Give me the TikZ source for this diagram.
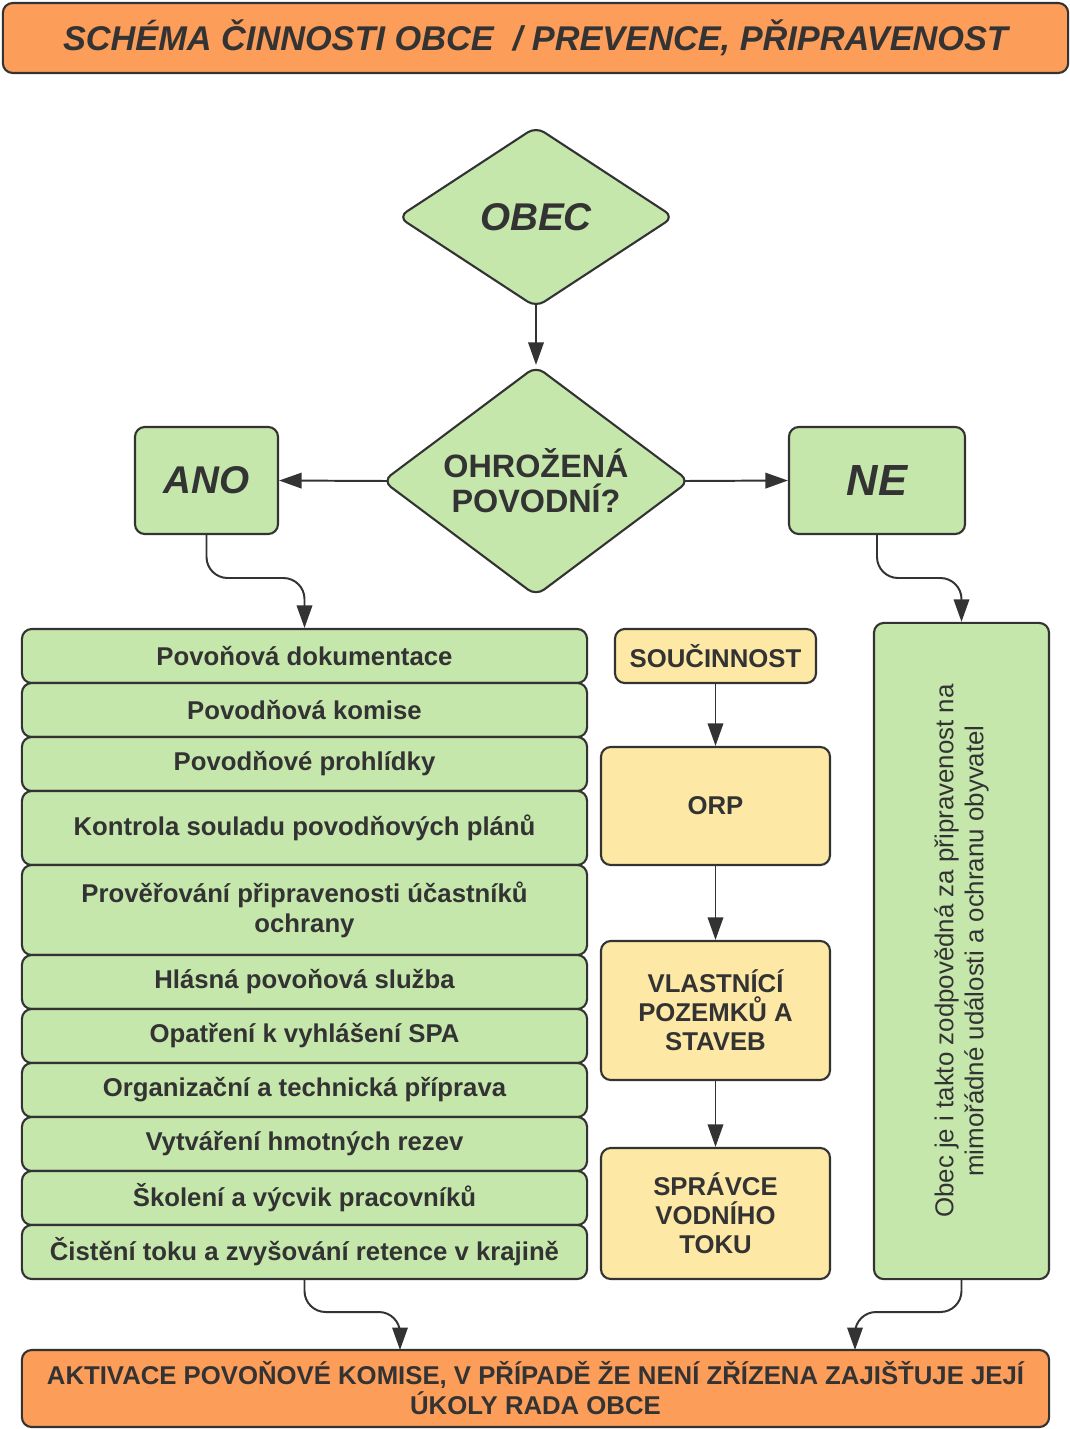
\documentclass[tikz,border=0pt]{standalone}
\usepackage{fontspec}
\setmainfont{Liberation Sans}
\usetikzlibrary{shapes.geometric,arrows.meta}
\definecolor{boxorange}{HTML}{FC9D5A}
\definecolor{boxgreen}{HTML}{C6E7AC}
\definecolor{boxyellow}{HTML}{FDE8A5}
\definecolor{ink}{HTML}{333333}

\begin{document}
\begin{tikzpicture}[x=0.025cm, y=-0.025cm,
  box/.style = {draw=ink, line width=1.5pt, rounded corners=7pt, align=center,
                text=ink, font=\bfseries\fontsize{18.3}{21.3}\selectfont, inner sep=2pt},
  greenbox/.style = {box, fill=boxgreen},
  yellowbox/.style = {box, fill=boxyellow, minimum width=5.725cm},
  orangebox/.style = {box, fill=boxorange},
  row/.style = {greenbox, minimum width=14.125cm},
  decision/.style = {diamond, draw=ink, line width=1.5pt, rounded corners=7pt,
                fill=boxgreen, text=ink, align=center, inner sep=0pt, aspect=1.5},
  arr/.style = {draw=ink, line width=1.4pt, -{Triangle[length=16pt, width=11pt]}}]
\useasboundingbox (0,0) rectangle (1070,1429);

% header
\node [orangebox, minimum width=26.625cm, minimum height=1.75cm,
       font=\bfseries\itshape\fontsize{24.4}{28}\selectfont] (title) at (535.5,38)
  {SCHÉMA ČINNOSTI OBCE\ \ / PREVENCE, PŘIPRAVENOST};

% decisions
\node [decision, minimum width=6.9cm, minimum height=4.525cm,
       font=\bfseries\itshape\fontsize{27.5}{30}\selectfont] (obec) at (536,217) {OBEC};
\node [decision, minimum width=7.675cm, minimum height=5.75cm,
       font=\bfseries\fontsize{23}{25}\selectfont] (ohrozena) at (536,481) {OHROŽENÁ\\POVODNÍ?};
\node [greenbox, minimum width=3.575cm, minimum height=2.675cm,
       font=\bfseries\itshape\fontsize{27.5}{30}\selectfont] (ano) at (206.5,480.5) {ANO};
\node [greenbox, minimum width=4.4cm, minimum height=2.675cm,
       font=\bfseries\itshape\fontsize{31}{34}\selectfont] (ne) at (877,480.5) {NE};

% list of activities
\node [row, minimum height=1.35cm]  (r1)  at (304.5,656)  {Povoňová dokumentace};
\node [row, minimum height=1.35cm]  (r2)  at (304.5,710)  {Povodňová komise};
\node [row, minimum height=1.35cm]  (r3)  at (304.5,764)  {Povodňové prohlídky};
\node [row, minimum height=1.85cm]  (r4)  at (304.5,828)  {Kontrola souladu povodňových plánů};
\node [row, minimum height=2.25cm]  (r5)  at (304.5,910)  {Prověřování připravenosti účastníků\\ochrany};
\node [row, minimum height=1.35cm]  (r6)  at (304.5,982)  {Hlásná povoňová služba};
\node [row, minimum height=1.35cm]  (r7)  at (304.5,1036) {Opatření k vyhlášení SPA};
\node [row, minimum height=1.35cm]  (r8)  at (304.5,1090) {Organizační a technická příprava};
\node [row, minimum height=1.35cm]  (r9)  at (304.5,1144) {Vytváření hmotných rezev};
\node [row, minimum height=1.35cm]  (r10) at (304.5,1198) {Školení a výcvik pracovníků};
\node [row, minimum height=1.35cm]  (r11) at (304.5,1252) {Čistění toku a zvyšování retence v krajině};

% cooperation
\node [yellowbox, minimum width=5.025cm, minimum height=1.35cm] (soucinnost) at (715.5,656) {SOUČINNOST};
\node [yellowbox, minimum height=2.95cm]  (orp)     at (715.5,806)    {ORP};
\node [yellowbox, minimum height=3.475cm, font=\bfseries\fontsize{18.3}{20.6}\selectfont] (vlastnik) at (715.5,1010.5) {VLASTNÍCÍ\\POZEMKŮ A\\STAVEB};
\node [yellowbox, minimum height=3.275cm, font=\bfseries\fontsize{18.3}{20.6}\selectfont] (spravce) at (715.5,1213.5) {SPRÁVCE\\VODNÍHO\\TOKU};

% right note
\node [greenbox, minimum width=4.375cm, minimum height=16.4cm] (pozn) at (961.5,951) {};
\node [rotate=90, align=center, text=ink, font=\fontsize{18.4}{21.3}\selectfont] (poznText) at (pozn.center)
  {Obec je i takto zodpovědná za připravenost na\\mimořádné události a ochranu obyvatel};

% result
\node [orangebox, minimum width=25.675cm, minimum height=1.925cm] (vysledek) at (535.5,1388.5)
  {AKTIVACE POVOŇOVÉ KOMISE, V PŘÍPADĚ ŽE NENÍ ZŘÍZENA ZAJIŠŤUJE JEJÍ\\ÚKOLY RADA OBCE};
\coordinate (vysledekL) at (400,1350);
\coordinate (vysledekR) at (855,1350);

% connectors
\draw [arr] ([yshift=3pt]obec.south) -- (ohrozena.north);
\draw [arr] ([xshift=4pt]ohrozena.west) -- (ano.east);
\draw [arr] ([xshift=-4pt]ohrozena.east) -- (ne.west);
\draw [arr, rounded corners=15pt] (ano.south) -- (ano.south |- 0,578) -| (r1.north);
\draw [arr, rounded corners=15pt] (ne.south) -- (ne.south |- 0,578) -| (pozn.north);
\draw [arr] (soucinnost) -- (orp);
\draw [arr] (orp) -- (vlastnik);
\draw [arr] (vlastnik) -- (spravce);
\draw [arr, rounded corners=15pt] (r11.south) -- (r11.south |- 0,1312) -| (vysledekL);
\draw [arr, rounded corners=15pt] (pozn.south) -- (pozn.south |- 0,1312) -| (vysledekR);
\end{tikzpicture}
\end{document}
